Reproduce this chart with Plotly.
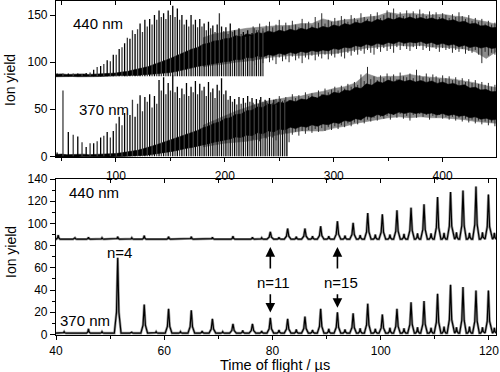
import plotly.graph_objects as go

# ---------------- DATA ----------------
# Top panel: resolved cluster spikes (time in µs, height in ion yield)
top370_t = [46.0, 51.4, 56.3, 60.8, 65.0, 68.9, 72.7, 76.3, 79.6, 82.8, 86.0, 88.9, 92.0, 94.9,
            97.6, 100.3, 103.0, 105.6, 108.0, 110.5, 112.9, 115.2, 117.6, 119.9,
            122.2, 124.4, 126.6, 128.8, 131.0, 133.2, 135.4, 137.5, 139.6, 141.7, 143.8, 145.9,
            148.0, 150.1, 152.2, 154.3, 156.4, 158.5, 160.6, 162.7, 164.8, 166.9, 169.0,
            171.0, 173.0, 175.0, 177.0, 179.0, 181.0, 183.0, 185.0, 187.0, 189.0, 191.0, 193.0,
            195.0, 197.0, 199.0, 201.0, 203.0, 205.0, 207.0, 209.0, 211.0, 213.0, 215.0, 217.0,
            219.0, 221.0, 223.0, 225.0, 227.0, 229.0, 231.0, 233.0, 235.0, 237.0, 239.0, 241.0,
            243.0, 245.0, 247.0, 249.0, 251.0, 253.0, 255.0, 257.0]
top370_h = [4, 70, 26, 23, 21, 15, 10, 14, 14, 16, 20, 22, 26, 20,
            27, 35, 42, 33, 46, 44, 44, 60, 42, 56,
            65, 48, 63, 58, 66, 52, 64, 56, 81, 70, 84, 66,
            78, 70, 86, 68, 74, 62, 72, 66, 78, 64, 74,
            68, 80, 66, 77, 70, 74, 64, 79, 68, 72, 62, 76,
            70, 83, 66, 70, 60, 64, 58, 61, 55, 63, 56, 62,
            57, 64, 58, 62, 55, 61, 56, 63, 58, 60, 57, 62,
            56, 60, 55, 58, 61, 57, 60, 58]
top440_t = [46.0, 51.4, 56.3, 60.8, 65.0, 68.9, 72.7, 76.3, 79.6, 82.8, 86.0, 88.9, 92.0, 94.9,
            97.6, 100.3, 103.0, 105.6, 108.0, 110.5, 112.9, 115.2, 117.6, 119.9,
            122.2, 124.4, 126.6, 128.8, 131.0, 133.2, 135.4, 137.5, 139.6, 141.7, 143.8, 145.9,
            148.0, 150.1, 152.2, 154.3, 156.4, 158.5, 160.6, 162.7, 164.8, 166.9, 169.0,
            171.0, 173.0, 175.0, 177.0, 179.0, 181.0, 183.0, 185.0, 187.0, 189.0, 191.0, 193.0,
            195.0, 197.0, 199.0, 201.0, 203.0, 205.0, 207.0, 209.0, 211.0, 213.0, 215.0, 217.0,
            219.0, 221.0, 223.0, 225.0, 227.0, 229.0, 231.0, 233.0, 235.0]
top440_h = [88, 88, 88, 88, 88, 87.5, 88.5, 89, 92, 95, 96, 98, 102, 101,
            108, 108, 114, 116, 120, 126, 125, 134, 130, 135,
            141, 132, 145, 138, 146, 140, 150, 145, 155, 148, 152, 146,
            155, 150, 160, 148, 157, 145, 150, 140, 145, 138, 150,
            140, 145, 137, 146, 138, 141, 134, 143, 136, 139, 132, 140,
            152, 138, 133, 137, 130, 141, 132, 134, 128, 136, 130, 132,
            127, 134, 128, 131, 136, 130, 134, 129, 133]

# Top panel: dense noisy band (core envelope), sampled every 5 µs from 45 to 450
band_t = list(range(45, 451, 5))
b440_lo = [84.6, 84.9, 84.5, 84.8, 84.6, 84.9, 84.5, 84.7, 84.8, 84.9, 85.2,
           85.4, 85.8, 85.6, 86.2, 86.0, 86.8, 87.0, 87.6, 88.0, 88.4, 89.0, 90.0, 91.5, 92.5,
           94.0, 95.5, 97.0, 97.5, 99.0, 99.5, 100.5, 101.0, 103.0, 102.5, 105.0, 104.5, 106.5,
           105.5, 108.0, 107.0, 109.5, 108.0, 110.5, 109.0, 111.5, 110.0, 112.5, 111.0, 113.0,
           112.0, 114.5, 113.5, 116.0, 115.0, 117.5, 116.5, 119.0, 117.5, 120.0, 118.5, 121.0,
           119.5, 122.0, 120.0, 121.5, 120.5, 122.0, 119.5, 121.0, 118.5, 120.0, 118.0, 119.0,
           116.5, 118.0, 115.5, 117.0, 115.0, 116.5, 114.5, 115.5]
b440_hi = [87.2, 87.6, 87.0, 87.4, 87.1, 87.5, 87.0, 87.3, 87.6, 87.8, 88.0,
           88.5, 89.5, 90.0, 91.5, 92.5, 94.0, 95.5, 97.5, 99.5, 101.5, 104.0, 106.5, 109.0,
           111.0, 114.0, 115.5, 119.0, 120.0, 122.5, 123.0, 125.0, 125.5, 128.0, 127.0, 130.0,
           129.0, 131.5, 130.5, 133.0, 131.5, 134.0, 132.5, 135.0, 133.5, 136.0, 134.5, 137.0,
           135.5, 138.0, 136.5, 139.5, 138.0, 141.0, 139.5, 142.5, 141.0, 144.0, 142.5, 145.5,
           144.0, 147.0, 145.0, 147.5, 146.0, 148.0, 146.0, 147.5, 145.5, 147.0, 145.0, 146.5,
           144.0, 145.0, 142.5, 143.5, 140.5, 141.5, 138.5, 139.0, 136.5, 137.0]
b370_lo = [-0.8, -0.5, -0.9, -0.6, -0.8, -0.5, -0.7, -0.6, -0.8, -0.5, -0.6,
           -0.4, -0.2, 0.0, 0.3, 0.6, 1.0, 1.5, 2.2, 3.0, 4.0, 5.0, 6.0, 7.0, 8.5, 9.5, 11.0,
           12.0, 13.5, 15.0, 16.0, 17.5, 18.5, 20.5, 20.0, 22.5, 22.0, 25.0, 24.0, 27.0, 26.0,
           29.0, 28.0, 31.0, 29.5, 32.0, 31.0, 33.5, 32.0, 34.5, 33.5, 36.0, 35.0, 38.0, 37.0,
           40.0, 39.0, 42.5, 41.5, 44.5, 43.0, 46.0, 44.5, 47.0, 45.5, 47.0, 45.5, 46.5, 45.0,
           46.0, 44.0, 45.5, 43.5, 44.5, 42.5, 43.5, 41.0, 42.0, 39.5, 40.5, 38.5, 39.5]
b370_hi = [2.0, 2.4, 1.8, 2.2, 1.9, 2.3, 1.8, 2.1, 2.4, 2.0, 2.5,
           3.0, 3.8, 4.5, 5.5, 6.5, 8.0, 9.5, 11.5, 13.5, 15.5, 17.5, 19.5, 21.5, 23.5, 26.0,
           27.5, 30.5, 32.0, 35.0, 36.5, 40.0, 41.0, 44.5, 45.0, 48.5, 49.0, 52.5, 52.0, 55.5,
           54.5, 57.5, 56.5, 59.5, 58.0, 61.0, 60.0, 63.5, 62.0, 65.5, 64.5, 68.0, 67.0, 70.5,
           69.5, 73.5, 72.0, 77.0, 75.5, 79.5, 78.0, 81.0, 79.0, 81.5, 79.5, 81.0, 79.0, 80.5,
           78.5, 80.0, 77.5, 79.0, 76.5, 77.5, 75.0, 76.0, 72.5, 73.5, 70.5, 71.0, 68.5, 69.0]

# Top panel: outer (grey) fringe of the noisy band, every 10 µs from 180 to 450
fr_t = list(range(180, 451, 10))
fr440_hi = [126, 130, 132, 134, 136, 137, 138, 139, 139, 141, 141, 146, 143, 145, 146, 148,
            149, 153, 151, 152, 151, 150, 151, 149, 148, 145, 143, 140]
fr440_lo = [95, 97, 98, 100, 101, 103, 105, 106, 107, 107, 108, 109, 109, 111, 113, 115,
            116, 117, 118, 117, 118, 116, 116, 115, 114, 111, 104, 112]
fr370_hi = [33, 38, 43, 48, 52, 56, 59, 61, 63, 64, 67, 69, 72, 74, 78, 88, 84, 85, 85, 87,
            85, 84, 83, 82, 80, 78, 75, 73]
fr370_lo = [10, 12, 14, 15, 16, 18, 21, 23, 25, 27, 27, 27, 30, 32, 35, 37, 39, 41, 42, 41,
            42, 41, 41, 40, 39, 37, 36, 35]

# Top panel: noise excursions ("hairs") of the band, every 3 µs from 226 to 448
hair_t = list(range(226, 449, 3))
hair440_top = [138, 134, 141, 136, 139, 143, 137, 140, 145, 138,
               142, 139, 144, 140, 137, 146, 141, 143, 139, 148,
               142, 152, 141, 145, 143, 147, 144, 149, 146, 143,
               150, 147, 145, 152, 148, 146, 151, 149, 153, 147,
               150, 155, 152, 157, 150, 153, 149, 155, 151, 154,
               150, 156, 152, 149, 154, 151, 153, 148, 152, 150,
               147, 151, 148, 153, 149, 146, 150, 144, 147, 143,
               146, 141, 144, 140, 142]
hair440_bot = [101, 97, 103, 99, 104, 100, 102, 98, 105, 101,
               103, 100, 106, 102, 104, 99, 105, 103, 107, 102,
               106, 104, 108, 103, 107, 105, 109, 106, 104, 110,
               107, 111, 108, 112, 109, 113, 110, 108, 114, 111,
               115, 112, 114, 110, 116, 113, 117, 114, 112, 116,
               114, 117, 113, 115, 112, 116, 114, 111, 115, 113,
               114, 110, 113, 111, 114, 109, 112, 110, 113, 108,
               99, 111, 107, 110, 108]
hair370_top = [57, 54, 60, 56, 59, 62, 57, 61, 64, 59,
               63, 60, 66, 62, 65, 61, 68, 64, 67, 63,
               70, 66, 72, 68, 71, 74, 70, 75, 72, 77,
               74, 79, 76, 87, 80, 95, 82, 85, 81, 86,
               83, 88, 84, 87, 82, 89, 85, 84, 88, 83,
               92, 86, 84, 88, 83, 87, 85, 82, 86, 83,
               85, 81, 84, 80, 83, 79, 82, 78, 81, 77,
               79, 76, 78, 74, 76]
hair370_bot = [18, 21, 16, 22, 19, 23, 20, 17, 24, 21,
               25, 15, 23, 26, 22, 27, 24, 28, 25, 29,
               26, 30, 27, 31, 28, 32, 29, 33, 31, 35,
               32, 36, 34, 38, 35, 39, 37, 41, 38, 42,
               40, 43, 39, 44, 41, 45, 40, 43, 38, 44,
               41, 45, 42, 44, 39, 43, 41, 44, 40, 42,
               39, 42, 38, 41, 37, 40, 36, 39, 35, 38,
               34, 37, 33, 36, 32]

# Bottom panel: cluster peaks (n = 4 ... 26)
bot370_t = [51.4, 56.3, 60.8, 65.0, 68.9, 72.7, 76.3, 79.6, 82.8, 86.0, 88.9, 92.0, 94.9,
            97.6, 100.3, 103.0, 105.6, 108.0, 110.5, 112.9, 115.2, 117.6, 119.9]
bot370_h = [69, 27, 23, 21.7, 14, 9.5, 9.5, 15, 14, 16, 23, 20, 19,
            27.7, 18, 23, 29, 30, 36.7, 44.7, 42.7, 39.6, 39.6]
bot440_t = [79.6, 82.8, 86.0, 88.9, 92.0, 94.9, 97.6, 100.3, 103.0, 105.6, 108.0, 110.5,
            112.9, 115.2, 117.6, 119.9]
bot440_h = [92.4, 95.4, 95.4, 97.5, 102, 100.5, 109.4, 108.2, 111.8, 114.2, 117.2, 123.7,
            128.2, 129.7, 133.3, 126]
# small satellite bumps
sat370_t = [41.5, 46.0, 48.5, 54.0, 58.5, 63.0, 67.0, 70.8, 74.5, 78.0, 81.2, 84.4, 87.4,
            90.4, 93.4, 96.2, 99.0, 101.7, 104.3, 106.8, 109.3, 111.7, 114.0, 116.4, 118.8, 121.0]
sat370_h = [2.5, 5.0, 2.5, 2.0, 2.5, 2.5, 3.0, 2.5, 3.5, 3.0, 4.0, 4.5, 4.0,
            5.0, 4.5, 5.5, 5.0, 6.0, 5.5, 6.5, 6.0, 7.0, 6.5, 7.0, 6.5, 6.0]
sat440_t = [40.4, 43.5, 46.0, 48.5, 51.4, 54.0, 56.3, 60.8, 65.0, 68.9, 72.7, 76.3, 78.0,
            81.2, 84.4, 87.4, 90.4, 93.4, 96.2, 99.0, 101.7, 104.3, 106.8, 109.3, 111.7, 114.0,
            116.4, 118.8, 121.0]
sat440_h = [89.5, 87.0, 87.5, 87.0, 88.0, 87.0, 89.0, 88.0, 88.0, 87.5, 88.5, 87.5, 87.0,
            87.5, 88.0, 88.5, 88.5, 89.0, 89.5, 90.0, 90.0, 90.5, 91.0, 91.0, 91.5, 92.0,
            91.5, 92.0, 91.5]
base370 = 1.2
base440 = 85.8

# ---------------- BUILD ----------------
FONT = "Liberation Sans, Arial, sans-serif"
fig = go.Figure()


def seg_xy(ts, lows, highs):
    xs, ys = [], []
    for t, lo, hi in zip(ts, lows, highs):
        xs += [t, t, None]
        ys += [lo, hi, None]
    return xs, ys


def band(x, lo, hi, color, xa, ya):
    fig.add_trace(go.Scatter(x=list(x) + list(x)[::-1], y=list(hi) + list(lo)[::-1],
                             fill="toself", fillcolor=color, mode="lines",
                             line=dict(width=0.6, color=color), hoverinfo="skip",
                             showlegend=False, xaxis=xa, yaxis=ya))


# grey fringes
band(fr_t, fr440_lo, fr440_hi, "#8c8c8c", "x", "y")
band(fr_t, fr370_lo, fr370_hi, "#8c8c8c", "x", "y")
# noise hairs
for top, bot in [(hair440_top, hair440_bot), (hair370_top, hair370_bot)]:
    xs, ys = seg_xy(hair_t, bot, top)
    fig.add_trace(go.Scatter(x=xs, y=ys, mode="lines", line=dict(color="#2a2a2a", width=1),
                             hoverinfo="skip", showlegend=False, xaxis="x", yaxis="y"))
# black cores
band(band_t, b440_lo, b440_hi, "black", "x", "y")
band(band_t, b370_lo, b370_hi, "black", "x", "y")

# spikes (alternate black / grey as in the scan)
for ts, hs, base in [(top370_t, top370_h, 0.0), (top440_t, top440_h, 85.0)]:
    for par, col in [(0, "black"), (1, "#3c3c3c")]:
        sub_t = ts[par::2]
        xs, ys = seg_xy(sub_t, [base] * len(sub_t), hs[par::2])
        fig.add_trace(go.Scatter(x=xs, y=ys, mode="lines", line=dict(color=col, width=1.3),
                                 hoverinfo="skip", showlegend=False, xaxis="x", yaxis="y"))


def peak_line(main_t, main_h, sat_t, sat_h, base, x0, x1):
    pts = [(t, h, 0.62) for t, h in zip(main_t, main_h)] + \
          [(t, h, 0.35) for t, h in zip(sat_t, sat_h)]
    pts.sort()
    xs, ys = [x0], [base]
    for t, h, w in pts:
        d = h - base
        xs += [t - w, t - 0.35 * w, t, t + 0.35 * w, t + w]
        ys += [base, base + 0.28 * d, h, base + 0.28 * d, base]
    xs.append(x1)
    ys.append(base)
    return xs, ys


for mt, mh, st, sh, base in [(bot370_t, bot370_h, sat370_t, sat370_h, base370),
                             (bot440_t, bot440_h, sat440_t, sat440_h, base440)]:
    xs, ys = peak_line(mt, mh, st, sh, base, 40, 121.3)
    fig.add_trace(go.Scatter(x=xs, y=ys, mode="lines", line=dict(color="#9a9a9a", width=2.6),
                             hoverinfo="skip", showlegend=False, xaxis="x2", yaxis="y2"))
    fig.add_trace(go.Scatter(x=xs, y=ys, mode="lines", line=dict(color="black", width=1.2),
                             hoverinfo="skip", showlegend=False, xaxis="x2", yaxis="y2"))

# dummy traces for overlay tick axes
fig.add_trace(go.Scatter(x=[None], y=[None], xaxis="x3", yaxis="y", showlegend=False))
fig.add_trace(go.Scatter(x=[None], y=[None], xaxis="x4", yaxis="y2", showlegend=False))

axis_common = dict(showline=True, linecolor="black", linewidth=1.2, mirror=True,
                   showgrid=False, zeroline=False, ticks="outside", ticklen=5,
                   tickwidth=1.1, tickcolor="black", automargin=False,
                   tickfont=dict(family=FONT, size=12, color="black"))
overlay_common = dict(side="top", ticks="inside", ticklen=4, tickwidth=1.1, tickcolor="black",
                      showticklabels=False, showline=False, showgrid=False, zeroline=False,
                      automargin=False)

fig.update_layout(
    template="none",
    width=500, height=372,
    margin=dict(l=56, r=4, t=1, b=37, autoexpand=False),
    paper_bgcolor="white", plot_bgcolor="white",
    font=dict(family=FONT, color="black"),
    showlegend=False,
    xaxis=dict(axis_common, domain=[0, 1], anchor="y", range=[45, 449],
               tick0=0, dtick=100, ticklen=4, ticklabelstandoff=3,
               minor=dict(ticks="outside", dtick=50, tick0=0, ticklen=3, tickcolor="black")),
    xaxis3=dict(overlay_common, overlaying="x", anchor="y", range=[45, 449], tick0=0, dtick=50),
    yaxis=dict(axis_common, domain=[0.532, 1], anchor="x", range=[-1, 165], tick0=0, dtick=50),
    xaxis2=dict(axis_common, domain=[0, 1], anchor="y2", range=[40, 121.3], tick0=0, dtick=20,
                ticklen=4,
                minor=dict(ticks="outside", dtick=10, tick0=0, ticklen=3, tickcolor="black")),
    xaxis4=dict(overlay_common, overlaying="x2", anchor="y2", range=[40, 121.3], tick0=0,
                dtick=10),
    yaxis2=dict(axis_common, domain=[0, 0.467], anchor="x2", range=[-0.5, 140], tick0=0,
                dtick=20,
                minor=dict(ticks="outside", dtick=10, tick0=0, ticklen=3, tickcolor="black")),
)

TXT = dict(family=FONT, size=15, color="black")
ann = [
    dict(text="440 nm", x=83.5, y=141.5, xref="x", yref="y", showarrow=False, font=TXT),
    dict(text="370 nm", x=89.0, y=50.0, xref="x", yref="y", showarrow=False, font=TXT),
    dict(text="440 nm", x=47.1, y=127.9, xref="x2", yref="y2", showarrow=False, font=TXT),
    dict(text="370 nm", x=45.4, y=12.5, xref="x2", yref="y2", showarrow=False, font=TXT),
    dict(text="n=4", x=51.7, y=74.2, xref="x2", yref="y2", showarrow=False, font=TXT),
    dict(text="n=11", x=80.2, y=46.5, xref="x2", yref="y2", showarrow=False, font=TXT),
    dict(text="n=15", x=92.7, y=46.5, xref="x2", yref="y2", showarrow=False, font=TXT),
    dict(text="Ion yield", x=(10 - 56) / 440, y=(335 - 80) / 334, xref="paper", yref="paper",
         xanchor="center", yanchor="middle",
         textangle=-90, showarrow=False, font=dict(family=FONT, size=14, color="black")),
    dict(text="Ion yield", x=(11 - 56) / 440, y=(335 - 252) / 334, xref="paper", yref="paper",
         xanchor="center", yanchor="middle",
         textangle=-90, showarrow=False, font=dict(family=FONT, size=14, color="black")),
    dict(text="Time of flight / µs", x=(275 - 56) / 440, y=(335 - 365) / 334, xref="paper",
         yref="paper", xanchor="center", yanchor="middle", showarrow=False,
         font=dict(family=FONT, size=14.5, color="black")),
]
# arrows
for xt, up_head, up_tail, dn_tail, dn_head in [(79.6, 78.7, 58.0, 37.6, 19.7),
                                               (92.0, 78.7, 58.0, 37.6, 24.0)]:
    for head, tail in [(up_head, up_tail), (dn_head, dn_tail)]:
        ann.append(dict(x=xt, y=head, ax=xt, ay=tail, xref="x2", yref="y2", axref="x2",
                        ayref="y2", text="", showarrow=True, arrowhead=2, arrowsize=1.2,
                        arrowwidth=1.6, arrowcolor="black"))
fig.update_layout(annotations=ann)

fig.write_html("out.html", config={"displayModeBar": False},
               post_script="document.body.style.margin='0px';"
                           "document.body.style.padding='0px';"
                           "document.body.style.overflow='hidden';")
